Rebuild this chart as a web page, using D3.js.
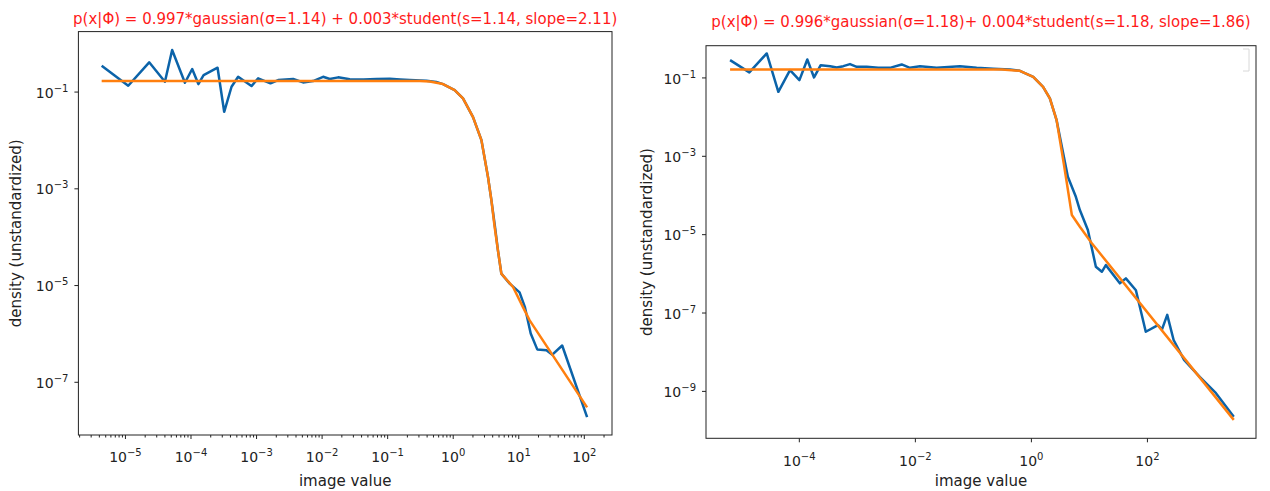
<!DOCTYPE html>
<html>
<head>
<meta charset="utf-8">
<script src="https://cdn.jsdelivr.net/npm/d3@7"></script>
<style>
  body { margin: 0; background: #fff; }
  svg text { font-family: "DejaVu Sans", sans-serif; fill: #222; }
</style>
</head>
<body>
<div id="chart"></div>
<script>
// values are log10 of image value / density
var leftBlueX = [-5.355, -4.95, -4.63, -4.39, -4.28, -4.085, -3.974, -3.88, -3.80, -3.587, -3.486, -3.374, -3.273, -3.07, -2.968, -2.78, -2.663, -2.434, -2.282, -2.13, -1.977, -1.875, -1.748, -1.57, -1.36, -1.163, -0.96, -0.80, -0.655, -0.40, -0.25, -0.148, 0.03, 0.157, 0.31, 0.438, 0.538, 0.59, 0.645, 0.69, 0.742, 0.87, 1.02, 1.10, 1.19, 1.29, 1.43, 1.52, 1.67, 2.05];
var leftBlueY = [-0.466, -0.88, -0.395, -0.797, -0.141, -0.818, -0.534, -0.845, -0.658, -0.507, -1.418, -0.90, -0.694, -0.886, -0.727, -0.83, -0.762, -0.741, -0.81, -0.783, -0.694, -0.741, -0.706, -0.747, -0.75, -0.741, -0.735, -0.75, -0.762, -0.776, -0.80, -0.845, -0.969, -1.141, -1.528, -2.004, -2.764, -3.245, -3.80, -4.282, -4.764, -4.97, -5.15, -5.45, -6.0, -6.33, -6.35, -6.44, -6.25, -7.73];
var leftFitX = [-5.355, -1.0, -0.5, -0.35, -0.148, 0.03, 0.157, 0.31, 0.438, 0.538, 0.59, 0.64, 0.69, 0.742, 0.92, 1.072, 1.174, 2.05];
var leftFitY = [-0.78, -0.78, -0.78, -0.79, -0.845, -0.969, -1.141, -1.528, -2.004, -2.764, -3.245, -3.80, -4.282, -4.764, -5.04, -5.456, -5.73, -7.53];

var rightBlueX = [-5.185, -4.853, -4.553, -4.353, -4.152, -3.99, -3.854, -3.738, -3.623, -3.46, -3.347, -3.233, -3.118, -3.003, -2.83, -2.63, -2.43, -2.227, -2.085, -1.912, -1.625, -1.223, -0.935, -0.65, -0.362, -0.19, 0.04, 0.21, 0.327, 0.443, 0.637, 0.775, 0.844, 0.982, 1.12, 1.223, 1.292, 1.533, 1.637, 1.81, 1.98, 2.19, 2.26, 2.35, 2.46, 2.64, 2.91, 3.19, 3.497];
var rightBlueY = [-0.559, -0.872, -0.388, -1.367, -0.814, -1.069, -0.541, -1.0, -0.686, -0.712, -0.745, -0.712, -0.66, -0.73, -0.73, -0.755, -0.755, -0.668, -0.755, -0.712, -0.755, -0.712, -0.755, -0.78, -0.80, -0.83, -0.985, -1.24, -1.536, -2.09, -3.536, -4.046, -4.385, -4.895, -5.83, -5.96, -5.79, -6.255, -6.128, -6.43, -7.49, -7.32, -7.43, -7.06, -7.70, -8.21, -8.64, -9.06, -9.66];
var rightFitX = [-5.185, -0.5, -0.19, 0.04, 0.21, 0.327, 0.443, 0.566, 0.706, 0.844, 1.05, 3.497];
var rightFitY = [-0.796, -0.796, -0.83, -0.985, -1.24, -1.536, -2.09, -3.19, -4.51, -4.81, -5.23, -9.74];

var leftXTicks = [-5, -4, -3, -2, -1, 0, 1, 2];
var leftYTicks = [-1, -3, -5, -7];
var rightXTicks = [-4, -2, 0, 2];
var rightYTicks = [-1, -3, -5, -7, -9];

var titles = [
    "p(x|\u03a6) = 0.997*gaussian(\u03c3=1.14) + 0.003*student(s=1.14, slope=2.11)",
    "p(x|\u03a6) = 0.996*gaussian(\u03c3=1.18)+ 0.004*student(s=1.18, slope=1.86)"
];

var blue = "#0b63a9";
var orange = "#ff7f0e";

var svg = d3.select("#chart")
    .append("svg")
    .attr("width", 1270)
    .attr("height", 491);

function pow10(v) { return Math.pow(10, v); }

// put "10" with a superscript exponent into a text node
function supLabel(sel, e) {
    sel.text("10");
    sel.append("tspan")
        .attr("dy", -6)
        .attr("font-size", "10px")
        .text(e < 0 ? "\u2212" + (-e) : e);
}

function drawPanel(p) {
    var x = d3.scaleLog()
        .domain([pow10(p.xdom[0]), pow10(p.xdom[1])])
        .range([p.left, p.right]);
    var y = d3.scaleLog()
        .domain([pow10(p.ydom[0]), pow10(p.ydom[1])])
        .range([p.top, p.bottom]);

    var g = svg.append("g");

    // minor ticks on x (only where matplotlib shows them)
    if (p.minor) {
        var minors = [];
        for (var d = Math.floor(p.xdom[0]); d <= Math.ceil(p.xdom[1]); d++) {
            for (var m = 2; m <= 9; m++) {
                var v = m * pow10(d);
                if (Math.log10(v) > p.xdom[0] && Math.log10(v) < p.xdom[1]) minors.push(v);
            }
        }
        g.append("g")
            .attr("transform", `translate(0, ${p.bottom})`)
            .call(d3.axisBottom(x).tickValues(minors).tickSize(2.5).tickFormat(""))
            .call(a => a.select(".domain").remove())
            .selectAll("line").attr("stroke", "#222");
    }

    var xAxis = g.append("g")
        .attr("transform", `translate(0, ${p.bottom})`)
        .call(d3.axisBottom(x).tickValues(p.xticks.map(pow10)).tickSize(4).tickPadding(10).tickFormat(""));
    xAxis.select(".domain").remove();
    xAxis.selectAll("line").attr("stroke", "#222");
    xAxis.selectAll(".tick text")
        .attr("font-size", "14px")
        .attr("dy", "0.95em")
        .each(function(d) { supLabel(d3.select(this), Math.round(Math.log10(d))); });

    var yAxis = g.append("g")
        .attr("transform", `translate(${p.left}, 0)`)
        .call(d3.axisLeft(y).tickValues(p.yticks.map(pow10)).tickSize(4).tickPadding(6).tickFormat(""));
    yAxis.select(".domain").remove();
    yAxis.selectAll("line").attr("stroke", "#222");
    yAxis.selectAll(".tick text")
        .attr("font-size", "14px")
        .attr("dy", "0.4em")
        .each(function(d) { supLabel(d3.select(this), Math.round(Math.log10(d))); });

    // curves
    var line = d3.line()
        .x(d => x(pow10(d[0])))
        .y(d => y(pow10(d[1])));

    g.append("path")
        .datum(d3.zip(p.blueX, p.blueY))
        .attr("d", line)
        .attr("fill", "none")
        .attr("stroke", blue)
        .attr("stroke-width", 2.5)
        .attr("stroke-linejoin", "round");

    g.append("path")
        .datum(d3.zip(p.fitX, p.fitY))
        .attr("d", line)
        .attr("fill", "none")
        .attr("stroke", orange)
        .attr("stroke-width", 2.5)
        .attr("stroke-linejoin", "round");

    // frame
    g.append("rect")
        .attr("x", p.left)
        .attr("y", p.top)
        .attr("width", p.right - p.left)
        .attr("height", p.bottom - p.top)
        .attr("fill", "none")
        .attr("stroke", "#222")
        .attr("stroke-width", 1);

    var cx = (p.left + p.right) / 2;

    g.append("text")
        .attr("x", cx)
        .attr("y", p.titleY)
        .attr("text-anchor", "middle")
        .attr("font-size", "15px")
        .style("fill", "#ff1a1a")
        .text(p.title);

    g.append("text")
        .attr("x", cx)
        .attr("y", 486)
        .attr("text-anchor", "middle")
        .attr("font-size", "15px")
        .text("image value");

    g.append("text")
        .attr("transform", `translate(${p.ylabelX}, ${(p.top + p.bottom) / 2}) rotate(-90)`)
        .attr("text-anchor", "middle")
        .attr("font-size", "15px")
        .text("density (unstandardized)");

    return g;
}

drawPanel({
    left: 78.4, right: 612, top: 31.6, bottom: 435,
    xdom: [-5.71, 2.43], ydom: [0.24, -8.10],
    xticks: leftXTicks, yticks: leftYTicks, minor: true,
    blueX: leftBlueX, blueY: leftBlueY, fitX: leftFitX, fitY: leftFitY,
    title: titles[0], titleY: 24, ylabelX: 21
});

var right = drawPanel({
    left: 706, right: 1256, top: 45.7, bottom: 438.3,
    xdom: [-5.6, 3.88], ydom: [-0.19, -10.21],
    xticks: rightXTicks, yticks: rightYTicks, minor: false,
    blueX: rightBlueX, blueY: rightBlueY, fitX: rightFitX, fitY: rightFitY,
    title: titles[1], titleY: 27, ylabelX: 652
});

// empty legend box, only its right edge shows
right.append("path")
    .attr("d", "M1243,49 H1249 V71 H1243")
    .attr("fill", "none")
    .attr("stroke", "#d8d8d8")
    .attr("stroke-width", 1);
</script>
</body>
</html>
